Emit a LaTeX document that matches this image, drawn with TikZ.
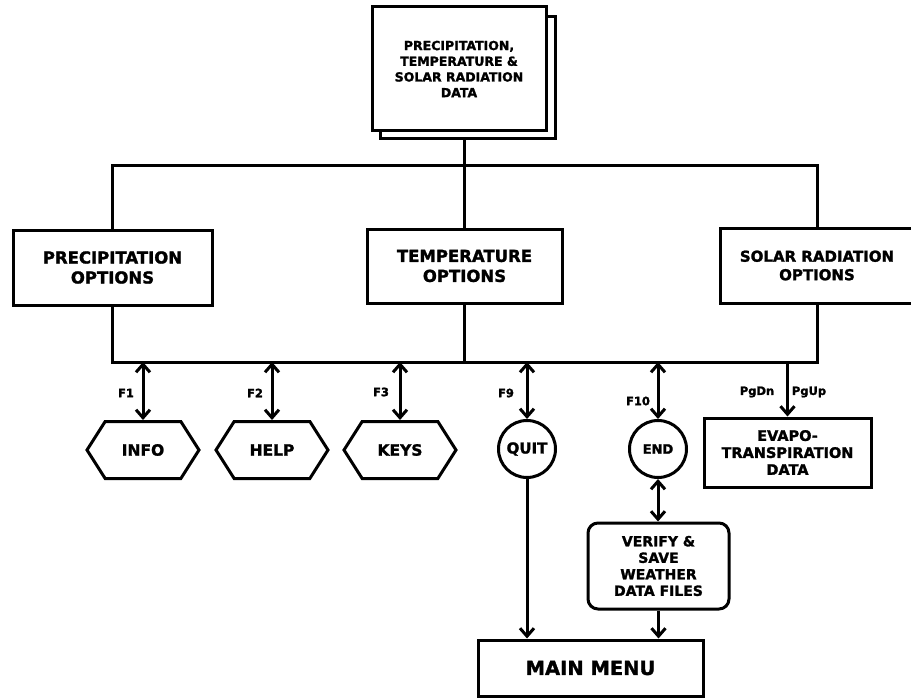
\documentclass[tikz,border=0pt]{standalone}
\usepackage{fontspec}
\setmainfont{DejaVu Sans}[BoldFeatures={FakeBold=1.6}]
\usetikzlibrary{arrows.meta,shapes.symbols,shapes.geometric}
\begin{document}
\begin{tikzpicture}[x=1pt,y=-1pt,
  every node/.style={align=center, inner sep=0pt},
  line/.style={line width=3pt},
  box/.style={draw, line width=3pt},
  big/.style={font=\bfseries\fontsize{16.5}{20}\selectfont},
  mid/.style={font=\bfseries\fontsize{14.5}{17}\selectfont},
  lab/.style={font=\bfseries\fontsize{11.5}{13}\selectfont},
  hexa/.style={draw, line width=3pt, signal, signal to=east and west, signal pointer angle=115, minimum width=112pt, minimum height=57pt, font=\bfseries\fontsize{15.5}{18}\selectfont},
  circ/.style={draw, line width=3pt, circle, minimum size=57pt},
  barb/.tip={Straight Barb[length=8pt,width=14pt]},
  arr/.style={line width=3pt, -barb},
  darr/.style={line width=3pt, barb-barb}]
\useasboundingbox (0,0) rectangle (911,698);
% top data box with shadow
\node[box, minimum width=175pt, minimum height=122pt] (shadow) at (468,78) {};
\node[box, fill=white, minimum width=174pt, minimum height=124pt, font=\bfseries\fontsize{12.5}{15.7}\selectfont] (data) at (459,69) {PRECIPITATION,\\TEMPERATURE \&\\SOLAR RADIATION\\DATA};
% option boxes
\node[box, big, minimum width=199pt, minimum height=75pt] (precip) at (112.5,267.5) {PRECIPITATION\\OPTIONS};
\node[box, big, minimum width=195pt, minimum height=74pt] (temp) at (464.5,266) {TEMPERATURE\\OPTIONS};
\node[box, font=\bfseries\fontsize{15}{18.5}\selectfont, minimum width=194pt, minimum height=75pt] (solar) at (817,265.5) {SOLAR RADIATION\\OPTIONS};
% buses
\coordinate (tb) at (464,166);
\coordinate (bb) at (464,362);
\draw[line] (temp.north |- shadow.south) -- (temp.north);
\draw[line] (precip.north) -- (precip.north |- tb) -- (solar.north |- tb) -- (solar.north);
\draw[line] (precip.south) -- (precip.south |- bb) -- (solar.south |- bb) -- (solar.south);
\draw[line] (temp.south) -- (temp.south |- bb);
% lower nodes
\node[hexa] (info) at (143,450) {INFO};
\node[hexa] (help) at (272,450) {HELP};
\node[hexa] (keys) at (400,450) {KEYS};
\node[circ, font=\bfseries\fontsize{15}{18}\selectfont] (quit) at (527,449) {QUIT};
\node[circ, font=\bfseries\fontsize{13}{16}\selectfont] (endc) at (658,449) {END};
\node[box, mid, minimum width=167pt, minimum height=69pt] (evapo) at (787.5,452.5) {EVAPO-\\TRANSPIRATION\\DATA};
\node[box, rounded corners=10pt, font=\bfseries\fontsize{14}{16.5}\selectfont, minimum width=141pt, minimum height=86pt] (verify) at (658.5,566) {VERIFY \&\\SAVE\\WEATHER\\DATA FILES};
\node[box, font=\bfseries\fontsize{19.5}{23}\selectfont, minimum width=225pt, minimum height=56pt] (main) at (590.5,668) {MAIN MENU};
% arrows
\draw[darr] (info.north |- bb) -- (info.north);
\draw[darr] (help.north |- bb) -- (help.north);
\draw[darr] (keys.north |- bb) -- (keys.north);
\draw[darr] (quit.north |- bb) -- (quit.north);
\draw[darr] (endc.north |- bb) -- (endc.north);
\draw[arr] (evapo.north |- bb) -- (evapo.north);
\draw[arr] (quit.south) -- (quit.south |- main.north);
\draw[darr] (endc.south) -- (endc.south |- verify.north);
\draw[arr] (verify.south) -- (verify.south |- main.north);
% labels
\node[lab] (lf1) at (126,393) {F1};
\node[lab] (lf2) at (255,393) {F2};
\node[lab] (lf3) at (381,392) {F3};
\node[lab] (lf9) at (506,393) {F9};
\node[lab] (lf10) at (638,401) {F10};
\node[lab] (lpgdn) at (757,392) {PgDn};
\node[lab] (lpgup) at (809,392) {PgUp};
\end{tikzpicture}
\end{document}
